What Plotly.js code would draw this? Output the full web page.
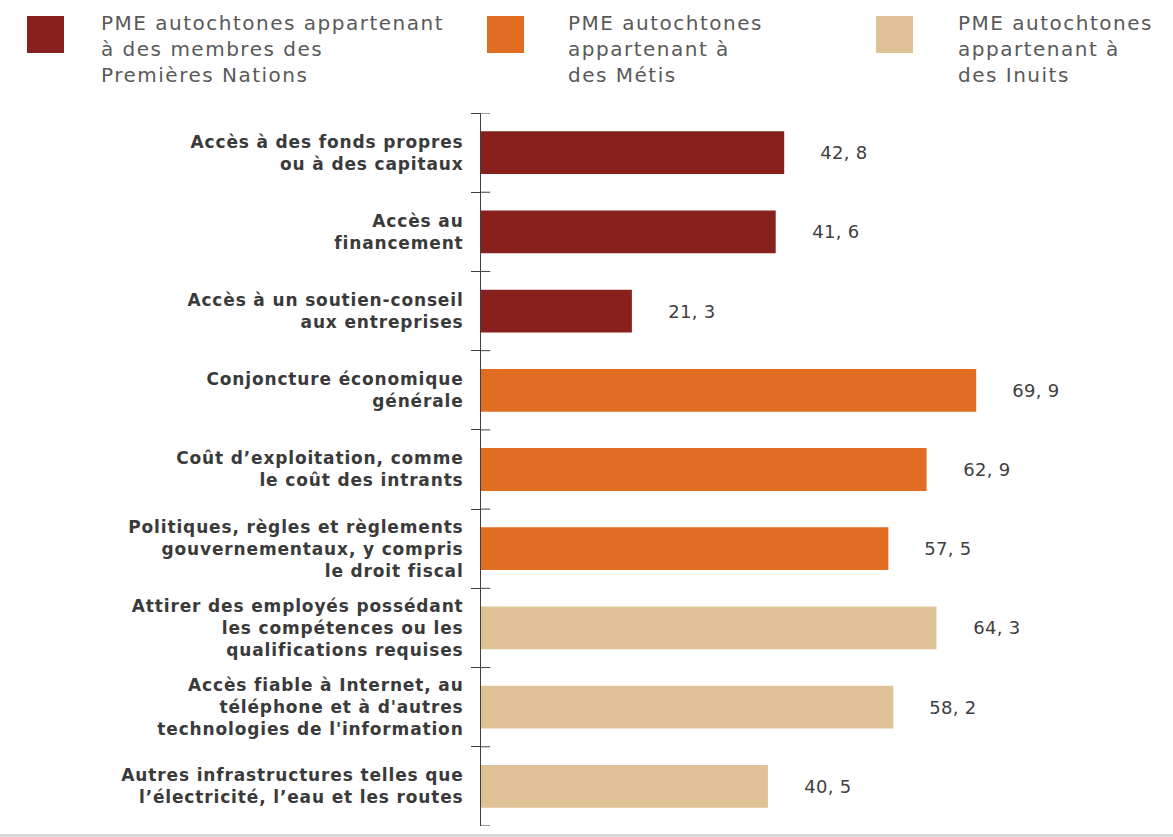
<!DOCTYPE html>
<html><head><meta charset="utf-8">
<script src="https://cdn.plot.ly/plotly-3.0.1.min.js"></script>
<style>html,body{margin:0;padding:0;background:#fff}#chart{width:1173px;height:837px}
#chart .yaxislayer-above text{letter-spacing:0.85px}
</style>
</head><body><div id="chart"></div>
<script>
const categories = [
  "Accès à des fonds propres<br>ou à des capitaux",
  "Accès au<br>financement",
  "Accès à un soutien-conseil<br>aux entreprises",
  "Conjoncture économique<br>générale",
  "Coût d’exploitation, comme<br>le coût des intrants",
  "Politiques, règles et règlements<br>gouvernementaux, y compris<br>le droit fiscal",
  "Attirer des employés possédant<br>les compétences ou les<br>qualifications requises",
  "Accès fiable à Internet, au<br>téléphone et à d'autres<br>technologies de l'information",
  "Autres infrastructures telles que<br>l’électricité, l’eau et les routes"
];
const values = [42.8, 41.6, 21.3, 69.9, 62.9, 57.5, 64.3, 58.2, 40.5];
const groupIndex = [0, 0, 0, 1, 1, 1, 2, 2, 2];
const groupNames = [
  "PME autochtones appartenant<br>à des membres des<br>Premières Nations",
  "PME autochtones<br>appartenant à<br>des Métis",
  "PME autochtones<br>appartenant à<br>des Inuits"
];
const groupColors = ["#88201D", "#E06D21", "#DFC397"];

const fmt = v => v.toFixed(1).replace('.', ', ');
const W = 1173, H = 837;

const trace = {
  type: 'bar', orientation: 'h',
  x: values, y: categories,
  width: 0.54,
  marker: {color: groupIndex.map(g => groupColors[g])},
  hoverinfo: 'none', showlegend: false
};

const annotations = values.map((v, i) => ({
  x: v, y: categories[i], xref: 'x', yref: 'y',
  text: fmt(v), showarrow: false, xanchor: 'left', xshift: 35,
  font: {family: 'DejaVu Sans, sans-serif', size: 18, color: '#404040'}
}));

const shapes = [];
for (let i = 0; i <= categories.length; i++) {
  shapes.push({type: 'line', xref: 'x', yref: 'y', x0: 0, x1: 1.3, y0: i - 0.5, y1: i - 0.5,
    line: {color: '#404040', width: 1}});
}
const legSq = [27, 487, 876];
const legTx = [99, 566, 956];
groupNames.forEach((n, g) => {
  shapes.push({type: 'rect', xref: 'paper', yref: 'paper', x0: legSq[g] / W, x1: (legSq[g] + 37) / W,
    y0: 1 - 53 / H, y1: 1 - 16 / H, fillcolor: groupColors[g], line: {width: 0}});
  annotations.push({xref: 'paper', yref: 'paper', x: legTx[g] / W, y: 1 - 9 / H, xanchor: 'left', yanchor: 'top',
    text: n, showarrow: false, align: 'left',
    font: {family: 'DejaVu Sans, sans-serif', size: 20, color: '#595959'}});
});
shapes.push({type: 'rect', xref: 'paper', yref: 'paper', x0: 0, x1: 1, y0: 0, y1: 3 / H,
  fillcolor: '#d9d9d9', line: {width: 0}, layer: 'below'});

const layout = {
  width: W, height: H,
  margin: {l: 0, r: 0, t: 0, b: 0},
  paper_bgcolor: '#fff', plot_bgcolor: '#fff',
  xaxis: {range: [0, 95], visible: false, fixedrange: true, domain: [481 / W, 1154 / W]},
  yaxis: {
    domain: [11 / H, 1 - 113 / H],
    autorange: false, range: [categories.length - 0.5, -0.5],
    type: 'category',
    showline: true, linecolor: '#404040', linewidth: 1,
    ticks: 'outside', ticklen: 9, tickcolor: '#404040', tickwidth: 1,
    tickson: 'boundaries', showgrid: false, zeroline: false,
    ticklabelstandoff: 13,
    tickfont: {family: 'DejaVu Sans, sans-serif', size: 17, color: '#3a3a3a', weight: 700}
  },
  shapes: shapes,
  annotations: annotations,
  font: {family: 'DejaVu Sans, sans-serif'}
};

Plotly.newPlot('chart', [trace], layout, {displayModeBar: false, staticPlot: true}).then(() => {
  document.querySelectorAll('#chart g.annotation').forEach(g => {
    const idx = +g.getAttribute('data-index');
    const t = g.querySelector('text');
    if (t) t.style.letterSpacing = idx >= values.length ? '1.5px' : '0.3px';
  });
});
</script></body></html>
